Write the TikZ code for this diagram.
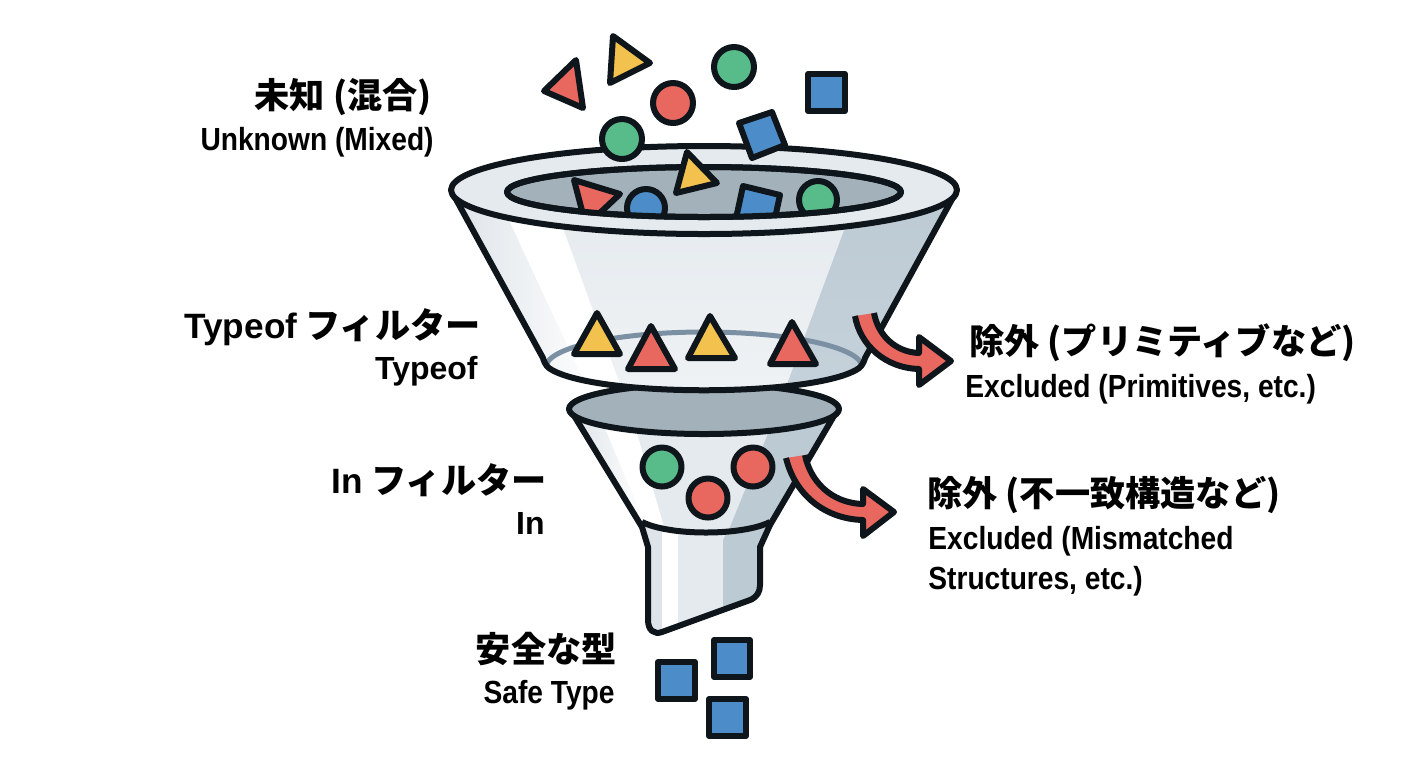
\documentclass[tikz,border=0pt]{standalone}
\usepackage{fontspec}
\usepackage{xcolor}
\usepackage{tikz}
\setmainfont{Liberation Sans}
\newfontfamily\jpfont{Noto Sans CJK JP}
\newfontfamily\narrowfont[FakeStretch=0.88]{Liberation Sans}
\definecolor{inkline}{HTML}{0E151B}
\definecolor{redfill}{HTML}{E8675F}
\definecolor{yellowfill}{HTML}{F2C14E}
\definecolor{greenfill}{HTML}{58BB8A}
\definecolor{bluefill}{HTML}{4C8CC8}
\definecolor{conebase}{HTML}{E5EAEE}
\definecolor{coneband}{HTML}{DEE4E9}
\definecolor{conedark}{HTML}{BCCAD4}
\definecolor{holefill}{HTML}{A3B1BB}
\definecolor{ringline}{HTML}{7C90A3}
\tikzset{
  outline/.style={draw=inkline, line width=3pt, line join=round},
  redshape/.style={outline, fill=redfill},
  yellowshape/.style={outline, fill=yellowfill},
  greenshape/.style={outline, fill=greenfill},
  blueshape/.style={outline, fill=bluefill},
  jplabel/.style={font=\jpfont\bfseries\fontsize{17.6}{20}\selectfont, inner sep=0pt},
  enlabel/.style={font=\narrowfont\bfseries\fontsize{16}{18}\selectfont, inner sep=0pt},
  widelabel/.style={font=\bfseries\fontsize{16}{18}\selectfont, inner sep=0pt},
}
\newcommand{\latinpart}[1]{{\normalfont\bfseries #1}}
\def\topcone{(452,192) -- (543,358) .. controls (545,365) and (548,368) .. (552,370) .. controls (600,397) and (808,397) .. (856,370) .. controls (860,368) and (863,365) .. (865,358) -- (956,192) -- cycle}
\def\lowcone{(570,409) -- (642,527) -- (648,547) -- (648,620) .. controls (648,630) and (654,635) .. (662,632) -- (750,600) .. controls (757,597) and (760,592) .. (760,585) -- (760,547) -- (770,525) -- (838,409) -- cycle}
\begin{document}
\begin{tikzpicture}[x=0.5pt, y=-0.5pt]
   \useasboundingbox (0,0) rectangle (1408,768);

   % Lower funnel
   \fill[conebase] \lowcone;
   \begin{scope}
     \clip \lowcone;
     \shade[left color=coneband, right color=white] (570,409) -- (597,409) -- (646,527) -- (630,527) -- cycle;
     \fill[white] (597,409) -- (630,409) -- (664,527) -- (646,527) -- cycle;
     \fill[coneband] (640,527) rectangle (662,640);
     \fill[white] (662,527) rectangle (678,640);
     \fill[conedark] (778,409) -- (730,527) -- (723,540) -- (723,640) -- (780,640) -- (850,409) -- cycle;
   \end{scope}
   \draw[outline] \lowcone;
   \draw[outline, fill=holefill] (704,409) circle[x radius=135, y radius=25];
   \draw[outline] (642,522) .. controls (670,536) and (742,536) .. (770,522);

   % Circles going through the lower funnel
   \draw[greenshape] (662,467) circle[radius=19.5];
   \draw[redshape] (708,498) circle[radius=19.5];
   \draw[redshape] (753,467) circle[radius=19.5];

   % Upper funnel
   \shade[top color=conebase, bottom color=conebase!60!white] \topcone;
   \begin{scope}
     \clip \topcone;
     \shade[left color=coneband, right color=white] (452,192) -- (495,190) -- (580,373) -- (600,400) -- (540,400) -- cycle;
     \fill[white] (495,190) -- (549,190) -- (622,390) -- (600,395) -- (580,373) -- cycle;
     \shade[top color=conedark, bottom color=conedark!75!conebase] (859,190) -- (783,395) -- (880,395) -- (960,190) -- cycle;
   \end{scope}
   \draw[ringline, line width=2.5pt] (546,367) arc[start angle=180, end angle=360, x radius=158, y radius=35];
   \draw[outline] \topcone;
   \draw[outline, fill=conebase] (704,190) circle[x radius=253, y radius=44];
   \draw[outline, fill=holefill] (704,192) circle[x radius=197, y radius=25];

   % Shapes seen inside the opening
   \begin{scope}
     \clip (704,192) circle[x radius=197, y radius=25];
     \draw[redshape] (574,180) -- (620,194) -- (586,226) -- cycle;
     \draw[blueshape] (646,208) circle[radius=19];
     \draw[blueshape] (743,186) -- (780,195) -- (772,232) -- (735,223) -- cycle;
     \draw[greenshape] (818,200) circle[radius=19];
   \end{scope}
   \draw[outline] (704,192) circle[x radius=197, y radius=25];

   % Shapes falling in
   \draw[redshape] (544,91) -- (576,60) -- (583,108) -- cycle;
   \draw[yellowshape] (613,36) -- (650,63) -- (610,83) -- cycle;
   \draw[greenshape] (734,67) circle[radius=20];
   \draw[redshape] (673,103) circle[radius=20];
   \draw[greenshape] (622,139) circle[radius=20];
   \draw[blueshape] (808,74) rectangle (845,111);
   \draw[blueshape] (739,123) -- (772,112) -- (785,145) -- (752,158) -- cycle;
   \draw[yellowshape] (687,152) -- (717,183) -- (676,193) -- cycle;

   % Triangles going through the upper funnel
   \draw[yellowshape] (597,313) -- (620,354) -- (574,354) -- cycle;
   \draw[redshape] (651,326) -- (675,369) -- (628,369) -- cycle;
   \draw[yellowshape] (710,316) -- (735,358) -- (688,358) -- cycle;
   \draw[redshape] (792,322) -- (816,364) -- (770,364) -- cycle;

   % Excluded arrows
   \fill[redfill] (874,313) .. controls (878,335) and (895,352) .. (919,353) -- (919,337) -- (951,361) -- (919,385) -- (919,369) .. controls (885,368) and (860,345) .. (855,316) -- cycle;
   \draw[outline] (874,313) .. controls (878,335) and (895,352) .. (919,353) -- (919,337) -- (951,361) -- (919,385) -- (919,369) .. controls (885,368) and (860,345) .. (855,316);
   \fill[redfill] (805,455) .. controls (810,480) and (830,503) .. (863,504) -- (863,489) -- (894,512) -- (863,536) -- (863,520) .. controls (825,519) and (795,495) .. (786,458) -- cycle;
   \draw[outline] (805,455) .. controls (810,480) and (830,503) .. (863,504) -- (863,489) -- (894,512) -- (863,536) -- (863,520) .. controls (825,519) and (795,495) .. (786,458);

   % Safe types coming out
   \draw[blueshape] (658,662) rectangle (695,699);
   \draw[blueshape] (714,640) rectangle (750,677);
   \draw[blueshape] (709,699) rectangle (746,736);

   % Labels
   \node[jplabel, anchor=base east] (mixedjp) at (432,108) {未知 (混合)};
   \node[enlabel, anchor=base east] (mixeden) at (434,150) {Unknown (Mixed)};
   \node[jplabel, anchor=base east] (typeofjp) at (481,338) {\latinpart{Typeof} フィルター};
   \node[widelabel, anchor=base east] (typeofen) at (478,379) {Typeof};
   \node[jplabel, anchor=base east] (injp) at (547,493) {\latinpart{In} フィルター};
   \node[widelabel, anchor=base east] (inen) at (545,534) {In};
   \node[jplabel, anchor=base east] (safejp) at (617,662) {安全な型};
   \node[enlabel, anchor=base east] (safeen) at (615,703) {Safe Type};
   \node[jplabel, anchor=base west] (primjp) at (969,354) {除外 (プリミティブなど)};
   \node[enlabel, anchor=base west] (primen) at (965,397) {Excluded (Primitives, etc.)};
   \node[jplabel, anchor=base west] (structjp) at (927,506) {除外 (不一致構造など)};
   \node[enlabel, anchor=base west] (structen) at (928,549) {Excluded (Mismatched};
   \node[enlabel, anchor=base west] (structen2) at (928,589) {Structures, etc.)};
\end{tikzpicture}
\end{document}
